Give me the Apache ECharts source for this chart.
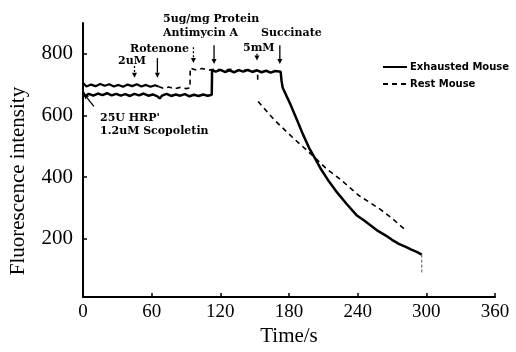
<!DOCTYPE html>
<html>
<head>
<meta charset="utf-8">
<script src="https://cdn.jsdelivr.net/npm/echarts@6/dist/echarts.min.js"></script>
<style>
  html, body { margin: 0; padding: 0; background: #fff; }
  #main { width: 516px; height: 352px; }
</style>
</head>
<body>
<div id="main"></div>
<script>
// time (s) and fluorescence
const exhaustedTrace = [
  [0, 676], [2, 662], [5, 670], [9, 664], [13, 671], [17, 666], [21, 672], [25, 665],
  [29, 670], [33, 664], [37, 669], [41, 663], [45, 670], [49, 665], [53, 671], [57, 664],
  [61, 668], [65, 662], [67, 655], [69, 664], [73, 670], [77, 663], [81, 668], [85, 664],
  [89, 669], [93, 662], [97, 667], [101, 663], [105, 668], [109, 664], [112.5, 667],
  [112.8, 747], [116, 742], [120, 748], [124, 741], [128, 746], [132, 740], [136, 747],
  [140, 742], [144, 748], [148, 741], [152, 746], [156, 740], [160, 745], [164, 739],
  [168, 744], [172.7, 742], [173.5, 712], [174.5, 690], [181, 638], [187, 585], [192, 540],
  [198, 491], [202, 465], [208, 425], [215, 385], [222, 350], [230, 314], [239, 276],
  [246, 258], [252, 241], [258, 224], [265, 209], [270, 196], [276, 183], [282, 173],
  [287, 164], [292, 156], [296, 148]
];
const exhaustedTail = [[296, 148], [296, 90]];
const restEarly = [
  [0, 706], [3, 694], [7, 700], [11, 695], [15, 702], [19, 696], [23, 701], [27, 694],
  [31, 699], [35, 693], [39, 700], [43, 695], [47, 701], [51, 694], [55, 699], [59, 693],
  [63, 698], [66, 694]
];
const restTrace = [
  [66, 694], [70, 688], [75, 692], [80, 686], [85, 691], [90, 687], [93.5, 689],
  [93.7, 754], [98, 748], [104, 752], [110, 747], [116, 751], [122, 746], [128, 750],
  [134, 745], [140, 749], [146, 744], [152.5, 747], [152.7, 712], [152.8, '-'],
  [153, 645], [167.5, 584], [183, 529], [202, 465], [212.6, 427], [224, 395],
  [241, 340], [258.6, 298], [270, 266], [281, 230]
];
const yTicks = [200, 400, 600, 800];

// injection arrows: time, top value, tip value
const arrows = [
  { t: 45, top: 760, tip: 722, dashed: true },
  { t: 65, top: 786, tip: 722 },
  { t: 96.5, top: 821, tip: 770, dashed: true },
  { t: 114.5, top: 828, tip: 767 },
  { t: 152, top: 800, tip: 778 },
  { t: 172, top: 828, tip: 767 }
];

const serif = '"Liberation Serif", "DejaVu Serif", serif';
const noteFont = '"DejaVu Serif", serif';

const chart = echarts.init(document.getElementById('main'));
chart.setOption({
  animation: false,
  color: ['#000'],
  grid: { left: 82, right: 21, top: 23, bottom: 52 },
  legend: {
    orient: 'vertical',
    left: 377,
    top: 57,
    itemWidth: 24,
    itemHeight: 8,
    itemGap: 7,
    itemStyle: { opacity: 0 },
    data: ['Exhausted Mouse', 'Rest Mouse'],
    textStyle: { fontFamily: '"DejaVu Sans", sans-serif', fontSize: 10, fontWeight: 'bold', color: '#000', padding: [0, 0, 0, -2] }
  },
  xAxis: {
    type: 'value',
    min: 0,
    max: 360,
    interval: 60,
    name: 'Time/s',
    nameLocation: 'middle',
    nameGap: 24,
    nameTextStyle: { fontFamily: serif, fontSize: 21, color: '#000' },
    axisLine: { lineStyle: { color: '#000', width: 2 } },
    axisTick: { inside: true, length: 4, lineStyle: { color: '#000', width: 1.5 } },
    axisLabel: { margin: 5, fontFamily: serif, fontSize: 19, color: '#000' },
    splitLine: { show: false }
  },
  yAxis: {
    type: 'value',
    min: 10,
    max: 900,
    name: 'Fluorescence intensity',
    nameLocation: 'middle',
    nameGap: 54,
    nameTextStyle: { fontFamily: serif, fontSize: 21, color: '#000', padding: [0, 42, 0, 0] },
    axisLine: { show: true, lineStyle: { color: '#000', width: 2 } },
    axisTick: { show: true, inside: true, length: 4, customValues: yTicks, lineStyle: { color: '#000', width: 1.5 } },
    axisLabel: { margin: 10, fontFamily: serif, fontSize: 21, color: '#000', customValues: yTicks },
    splitLine: { show: false }
  },
  series: [
    {
      name: 'Exhausted Mouse',
      type: 'line',
      data: exhaustedTrace,
      symbol: 'none',
      itemStyle: { color: '#000' },
      lineStyle: { color: '#000', width: 2.5 }
    },
    {
      name: 'Rest Mouse',
      type: 'line',
      data: restTrace,
      symbol: 'none',
      connectNulls: false,
      itemStyle: { color: '#000' },
      lineStyle: { color: '#000', width: 1.6, type: [5, 4] }
    },
    {
      name: 'rest-early',
      type: 'line',
      data: restEarly,
      symbol: 'none',
      lineStyle: { color: '#000', width: 2.2 }
    },
    {
      name: 'exhausted-tail',
      type: 'line',
      data: exhaustedTail,
      symbol: 'none',
      lineStyle: { color: '#555', width: 1, type: [3, 2] }
    }
  ]
});

function px(t, v) { return chart.convertToPixel({ gridIndex: 0 }, [t, v]); }

function arrowShapes(a, b, dashed) {
  const dx = b[0] - a[0], dy = b[1] - a[1];
  const len = Math.sqrt(dx * dx + dy * dy);
  const ux = dx / len, uy = dy / len;
  const h = 5, w = 2.5;
  const base = [b[0] - ux * h, b[1] - uy * h];
  return [
    { type: 'line', shape: { x1: a[0], y1: a[1], x2: base[0], y2: base[1] },
      style: { stroke: '#000', lineWidth: 1.3, lineDash: dashed ? [2, 2] : null } },
    { type: 'polygon', shape: { points: [b, [base[0] - uy * w, base[1] + ux * w], [base[0] + uy * w, base[1] - ux * w]] },
      style: { fill: '#000' } }
  ];
}

const graphics = [];
arrows.forEach(function (a) {
  graphics.push.apply(graphics, arrowShapes(px(a.t, a.top), px(a.t, a.tip), a.dashed));
});
graphics.push.apply(graphics, arrowShapes(px(9.5, 629), px(0.9, 670), false));

const notes = [
  ['5ug/mg Protein', 163, 19],
  ['Antimycin A', 163, 33],
  ['Succinate', 261, 33],
  ['Rotenone', 130, 49],
  ['2uM', 118, 61],
  ['5mM', 243, 48],
  ["25U HRP'", 100, 118],
  ['1.2uM Scopoletin', 100, 131]
];
notes.forEach(function (n) {
  graphics.push({
    type: 'text', x: n[1], y: n[2],
    style: { text: n[0], fill: '#000', font: 'bold 11px ' + noteFont, textVerticalAlign: 'middle', textAlign: 'left' }
  });
});

chart.setOption({ graphic: graphics });

window.addEventListener('resize', function () { chart.resize(); });
</script>
</body>
</html>
